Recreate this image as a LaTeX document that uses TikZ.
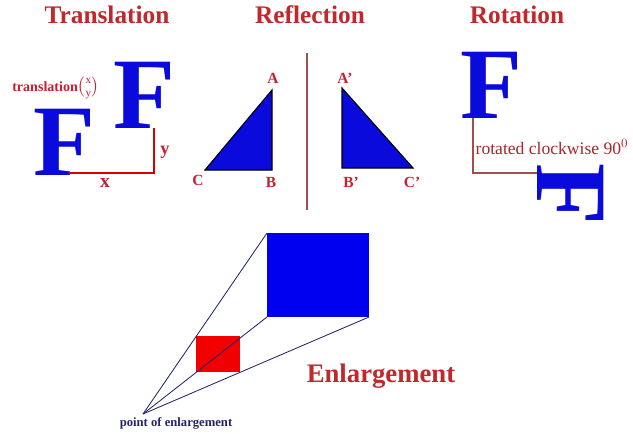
\documentclass[tikz,border=0pt]{standalone}
\usepackage{amsmath}
\usepackage{fontspec}
\setmainfont{Liberation Serif}
\usetikzlibrary{calc}
\definecolor{titlered}{HTML}{C0282C}
\definecolor{labred}{HTML}{C82030}
\definecolor{fblue}{HTML}{0A0ADC}
\definecolor{sqblue}{HTML}{0000F0}
\definecolor{mirror}{HTML}{A0504C}
\definecolor{navy}{HTML}{24246E}
\tikzset{
  title/.style={font=\fontsize{18}{18}\selectfont\bfseries, text=titlered},
  bigF/.style={font=\fontsize{72}{72}\selectfont\bfseries, text=fblue, inner sep=0pt, anchor=base west},
  vlabel/.style={font=\fontsize{11}{11}\selectfont\bfseries, text=labred, inner sep=1pt},
  trans/.style={draw=red!85!black, line width=1.3pt},
  ray/.style={draw=navy, line width=0.6pt}
}
\begin{document}
\begin{tikzpicture}[x=0.025cm, y=-0.025cm]
  \useasboundingbox[fill=white] (0,0) rectangle (633,434);
  \node[title] (ttrans) at (107,15) {Translation};
  \node[title] (trefl) at (310,15) {Reflection};
  \node[title] (trot) at (517,15) {Rotation};
  \node[title, font=\fontsize{19}{19}\selectfont\bfseries] (tenl) at (381,376) {Enlargement};

  \node[bigF] (fone) at (33,175) {F};
  \node[bigF] (ftwo) at (113,128) {F};
  \coordinate (ts) at (69,173);
  \coordinate (te) at (154,128);
  \draw[trans] (ts) -| (te);
  \node[vlabel, font=\fontsize{14}{14}\selectfont\bfseries] (lx) at (105,183) {x};
  \node[vlabel, font=\fontsize{13}{13}\selectfont\bfseries, inner sep=0pt] (ly) at (165,152) {y};
  \node[vlabel, font=\fontsize{10}{10}\selectfont\bfseries, anchor=west, inner sep=0pt] (ttext) at (12,88) {translation{\fontsize{12}{12}\selectfont$\binom{\mathrm{x}}{\mathrm{y}}$}};

  \coordinate (A) at (272,90);
  \coordinate (B) at (272,170);
  \coordinate (C) at (205,170);
  \coordinate (A') at (342,88);
  \coordinate (B') at (342,168);
  \coordinate (C') at (413,168);
  \filldraw[fill=fblue, draw=black, line width=0.8pt] (A) -- (B) -- (C) -- cycle;
  \filldraw[fill=fblue, draw=black, line width=0.8pt] (A') -- (B') -- (C') -- cycle;
  \draw[mirror, line width=2pt] (307,53) -- (307,210);
  \node[vlabel] (la) at (273,78) {A};
  \node[vlabel] (lb) at (271,182) {B};
  \node[vlabel] (lc) at (198,180) {C};
  \node[vlabel] (la') at (345,78) {A'};
  \node[vlabel] (lb') at (351,182) {B'};
  \node[vlabel] (lc') at (412,182) {C'};

  \node[bigF] (frot) at (460,118) {F};
  \node[bigF, rotate=-90] (frotted) at (537,163) {F};
  \coordinate (rs) at (473,118);
  \coordinate (re) at (537,173);
  \draw[mirror, line width=1.3pt] (rs) |- (re);
  \node[vlabel, font=\fontsize{12.5}{12.5}\selectfont, anchor=west, text=titlered!90!black] (rtext) at (474,147) {rotated clockwise 90$^0$};

  \coordinate (poe) at (143,414);
  \coordinate (btl) at (267,233);
  \coordinate (bbl) at (267,317);
  \coordinate (bbr) at (369,317);
  \fill[sqblue] (btl) rectangle (bbr);
  \fill[red!95!black] ($(poe)!0.43!(btl)$) rectangle ($(poe)!0.43!(bbr)$);
  \draw[ray] (poe) -- (btl);
  \draw[ray] (poe) -- (bbl);
  \draw[ray] (poe) -- (bbr);
  \node[font=\fontsize{9}{9}\selectfont\bfseries, text=navy] (tpoe) at (176,423) {point of enlargement};
\end{tikzpicture}
\end{document}
